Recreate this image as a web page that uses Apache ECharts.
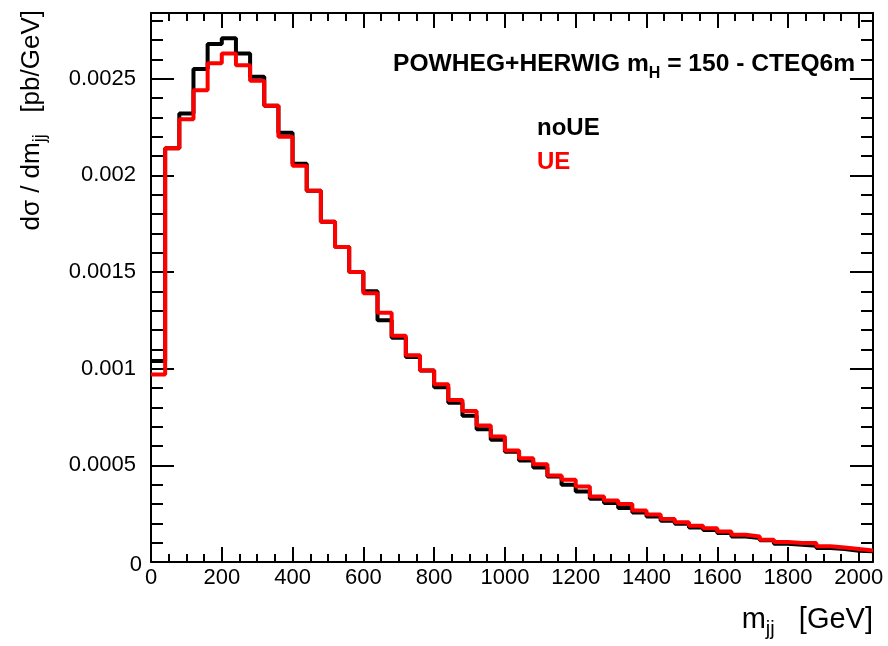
<!DOCTYPE html>
<html>
<head>
<meta charset="utf-8">
<script src="https://cdn.jsdelivr.net/npm/echarts@6/dist/echarts.min.js"></script>
<style>
html,body{margin:0;padding:0;background:#fff;}
#chart{width:888px;height:646px;}
</style>
</head>
<body>
<div id="chart"></div>
<script>
// bin lower edges (GeV), 40 GeV bins
const binLow = [0,40,80,120,160,200,240,280,320,360,400,440,480,520,560,600,640,680,720,760,
  800,840,880,920,960,1000,1040,1080,1120,1160,1200,1240,1280,1320,1360,1400,1440,1480,1520,1560,
  1600,1640,1680,1720,1760,1800,1840,1880,1920,1960,2000];
const lastEdge = 2040;
// dsigma/dmjj [pb/GeV]
const noUE = [0.00104,0.00214,0.00232,0.00255,0.00268,0.00271,0.00263,0.00251,0.00236,0.00222,
  0.00206,0.00192,0.00176,0.00163,0.00150,0.00140,0.00125,0.00116,0.00106,0.00099,
  0.000904,0.000824,0.000756,0.000687,0.000632,0.000570,0.000525,0.000489,0.000442,0.000399,
  0.000365,0.000327,0.000305,0.000279,0.000256,0.000236,0.000213,0.000198,0.000179,0.000166,
  0.000150,0.000132,0.000124,0.000112,0.000095,0.000089,0.000084,0.000072,0.000067,0.000058,
  0.000055];
const UE = [0.00097,0.00214,0.00229,0.00244,0.00258,0.00263,0.00257,0.00249,0.00236,0.00220,
  0.00205,0.00192,0.00176,0.00163,0.00150,0.00139,0.00129,0.00117,0.00107,0.00099,
  0.000919,0.000838,0.000781,0.000706,0.000649,0.000577,0.000537,0.000506,0.000447,0.000425,
  0.000391,0.000339,0.000318,0.000300,0.000267,0.000246,0.000222,0.000205,0.000188,0.000174,
  0.000158,0.000141,0.000132,0.000115,0.000103,0.000098,0.000098,0.000081,0.000075,0.000067,
  0.000060];
const xMin = 0, xMax = 2040, xMajor = 200, xMinor = 50;
const yMin = 0, yMax = 0.00284, yMajor = 0.0005, yMinor = 0.0001;

function hist(vals){
  const d = binLow.map((x,i)=>[x, vals[i]]);
  d.push([lastEdge, vals[vals.length-1]]);
  return d;
}
const FONT = '"Liberation Sans", Arial, Helvetica, sans-serif';
const ctx = document.createElement('canvas').getContext('2d');
function textW(t, size, weight){
  ctx.font = (weight||'normal') + ' ' + size + 'px ' + FONT;
  return ctx.measureText(t).width;
}
// text with sub-scripts built from pieces along a baseline
function line(segs, ox, oy, align, rot){
  const K = 0.33;
  const ws = segs.map(s=>textW(s.t, s.size, s.weight));
  const W = ws.reduce((a,b)=>a+b,0);
  let along = align==='right' ? -W : 0;
  const u = rot ? [0,-1] : [1,0];
  const v = rot ? [1,0] : [0,1];
  const out = [];
  segs.forEach((s,i)=>{
    const off = (s.dy||0) - K*s.size;
    out.push({type:'text', z:10, rotation: rot ? Math.PI/2 : 0,
      x: ox + u[0]*along + v[0]*off, y: oy + u[1]*along + v[1]*off,
      style:{text:s.t, fill:s.color||'#000', fontSize:s.size, fontWeight:s.weight||'normal',
        fontFamily:FONT, align:'left', verticalAlign:'middle'}});
    along += ws[i];
  });
  return out;
}

const chart = echarts.init(document.getElementById('chart'), null, {renderer:'canvas'});

function xAx(pos, interval, len, labels, line){
  return {type:'value', position:pos, min:xMin, max:xMax, interval:interval,
    axisLine:{show:line, onZero:false, lineStyle:{color:'#000', width:2}},
    axisTick:{show:true, inside:true, length:len, lineStyle:{color:'#000', width:2}},
    axisLabel:{show:labels, showMaxLabel:false, margin:5, color:'#000', fontSize:22, fontFamily:FONT,
      formatter:v=>String(v)},
    splitLine:{show:false}};
}
function yAx(pos, interval, len, labels, line){
  return {type:'value', position:pos, min:yMin, max:yMax, interval:interval,
    axisLine:{show:line, onZero:false, lineStyle:{color:'#000', width:2}},
    axisTick:{show:true, inside:true, length:len, lineStyle:{color:'#000', width:2}},
    axisLabel:{show:labels, showMaxLabel:false, margin:15, color:'#000', fontSize:22, fontFamily:FONT,
      formatter:v=> v===0 ? '{z|0}' : String(+v.toFixed(5)),
      rich:{z:{fontSize:22, fontFamily:FONT, color:'#000', padding:[6,-6,0,0]}}},
    splitLine:{show:false}};
}

const B = 'bold';
const graphics = [].concat(
  line([{t:'POWHEG+HERWIG m', size:24.6, weight:B}, {t:'H', size:16, weight:B, dy:6.5},
        {t:' = 150 - CTEQ6m', size:24.6, weight:B}], 393, 72.5, 'left', false),
  line([{t:'noUE', size:24, weight:B}], 537, 136.5, 'left', false),
  line([{t:'UE', size:24, weight:B, color:'#ff0000'}], 537, 170, 'left', false),
  line([{t:'m', size:29}, {t:'jj', size:20, dy:6}, {t:'   [GeV]', size:29}], 873, 630, 'right', false),
  line([{t:'dσ / dm', size:26}, {t:'jj', size:18, dy:6}, {t:'   [pb/GeV]', size:26}], 40, 10, 'right', true)
);

const option = {
  animation:false,
  backgroundColor:'#fff',
  grid:{left:151, right:15, top:13, bottom:84, containLabel:false},
  xAxis:[xAx('bottom', xMajor, 15, true, true), xAx('bottom', xMinor, 8, false, false),
         xAx('top', xMajor, 15, false, true), xAx('top', xMinor, 8, false, false)],
  yAxis:[yAx('left', yMajor, 23, true, true), yAx('left', yMinor, 12, false, false),
         yAx('right', yMajor, 23, false, true), yAx('right', yMinor, 12, false, false)],
  series:[
    {name:'noUE', type:'line', step:'end', data:hist(noUE), symbol:'none', xAxisIndex:0, yAxisIndex:0,
     lineStyle:{color:'#000', width:4}, z:3},
    {name:'UE', type:'line', step:'end', data:hist(UE), symbol:'none', xAxisIndex:0, yAxisIndex:0,
     lineStyle:{color:'#ff0000', width:4}, z:4}
  ],
  graphic: graphics
};
chart.setOption(option);
</script>
</body>
</html>
